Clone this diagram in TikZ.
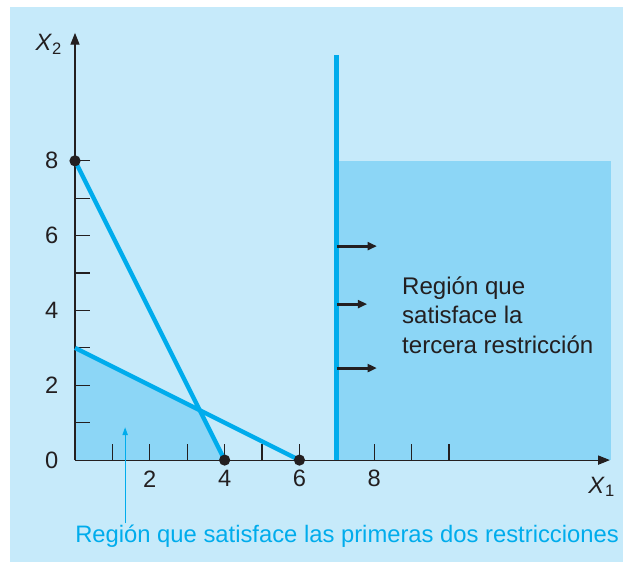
\documentclass[tikz,border=0pt]{standalone}
\usepackage{fontspec}
\setmainfont{Liberation Sans}
\usepackage{tikz}
\usetikzlibrary{positioning, arrows.meta, calc}
\usepackage{xcolor}
\definecolor{panelblue}{RGB}{198,234,250}
\definecolor{shadeblue}{RGB}{140,214,246}
\definecolor{linecyan}{RGB}{0,172,236}
\definecolor{inkgray}{RGB}{35,31,32}

\begin{document}
\begin{tikzpicture}[
			x=1cm, y=1cm,
			axis/.style={draw=inkgray, line width=0.8pt},
			tick/.style={draw=inkgray, line width=0.9pt},
			bound/.style={draw=linecyan, line width=3.3pt},
			dot/.style={circle, fill=inkgray, inner sep=0pt, minimum size=0.3cm},
			push/.style={-{Triangle[length=7pt, width=6pt]}, line width=2.2pt, draw=inkgray},
			ticklabel/.style={font=\fontsize{18}{21}\selectfont, text=inkgray, inner sep=0pt},
			label/.style={font=\fontsize{18.3}{22.5}\selectfont, align=left, inner sep=0pt}
			]
			
			% Fondo y marco
			\useasboundingbox (-2.005,-2.727) rectangle (14.65,12.30);
			\fill[panelblue] (-1.738,-2.727) rectangle (14.65,12.11);
			
			% Regiones sombreadas
			\fill[shadeblue] (0,0) -- (0,3) -- (10/3,4/3) -- (4,0) -- cycle;
			\fill[shadeblue] (7,0) rectangle (14.33,8);
			
			% Ejes
			\draw[axis, -{Triangle[length=9pt, width=7pt]}] (0,0) -- (14.3,0);
			\draw[axis, -{Triangle[length=9pt, width=7pt]}] (0,0) -- (0,11.42);
			\foreach \k in {1,...,10} \draw[tick] (\k,0) -- (\k,0.43);
			\foreach \k in {1,...,8} \draw[tick] (0,\k) -- (0.4,\k);
			
			% Rotulos de los ejes
			\node[ticklabel] (y0) at (-0.62,0) {0};
			\node[ticklabel] (y2) at (-0.62,2) {2};
			\node[ticklabel] (y4) at (-0.62,4) {4};
			\node[ticklabel] (y6) at (-0.62,6) {6};
			\node[ticklabel] (y8) at (-0.62,8) {8};
			\node[ticklabel] (x2) at (2,-0.5) {2};
			\node[ticklabel] (x4) at (4,-0.5) {4};
			\node[ticklabel] (x6) at (6,-0.5) {6};
			\node[ticklabel] (x8) at (8,-0.5) {8};
			\node[ticklabel] (xlab) at (14.08,-0.72) {\textit{X}\textsubscript{1}};
			\node[ticklabel] (ylab) at (-0.7,11.12) {\textit{X}\textsubscript{2}};
			
			% Puntos de corte
			\coordinate (a) at (0,8);
			\coordinate (b) at (4,0);
			\coordinate (c) at (6,0);
			\coordinate (d) at (0,3);
			\coordinate (e) at (7,0);
			\coordinate (f) at (7,10.83);
			
			% Restricciones
			\draw[bound] (a) -- (b);
			\draw[bound] (d) -- (c);
			\draw[draw=linecyan, line width=3.8pt] (e) -- (f);
			\node[dot] (da) at (a) {};
			\node[dot] (db) at (b) {};
			\node[dot] (dc) at (c) {};
			
			% Flechas de la tercera restriccion
			\coordinate (p1) at (7,5.72);
			\coordinate (p2) at (7,4.17);
			\coordinate (p3) at (7,2.46);
			\draw[push] (p1) -- ++(1.07,0);
			\draw[push] (p2) -- ++(0.81,0);
			\draw[push] (p3) -- ++(1.07,0);
			
			% Textos
			\node[label, text=inkgray, anchor=west] (third) at (8.74,3.88)
			{Región que\\satisface la\\tercera restricción};
			\node[label, font=\fontsize{18.1}{22.5}\selectfont, text=linecyan, anchor=west] (first) at (0,-2.04)
			{Región que satisface las primeras dos restricciones};
			\coordinate (q) at (1.34,0.88);
			\draw[-{Triangle[length=6pt, width=4pt]}, draw=linecyan, fill=linecyan, line width=0.8pt]
			($(first.north west)+(1.34,0.05)$) -- (q);
			
		\end{tikzpicture}
\end{document}
